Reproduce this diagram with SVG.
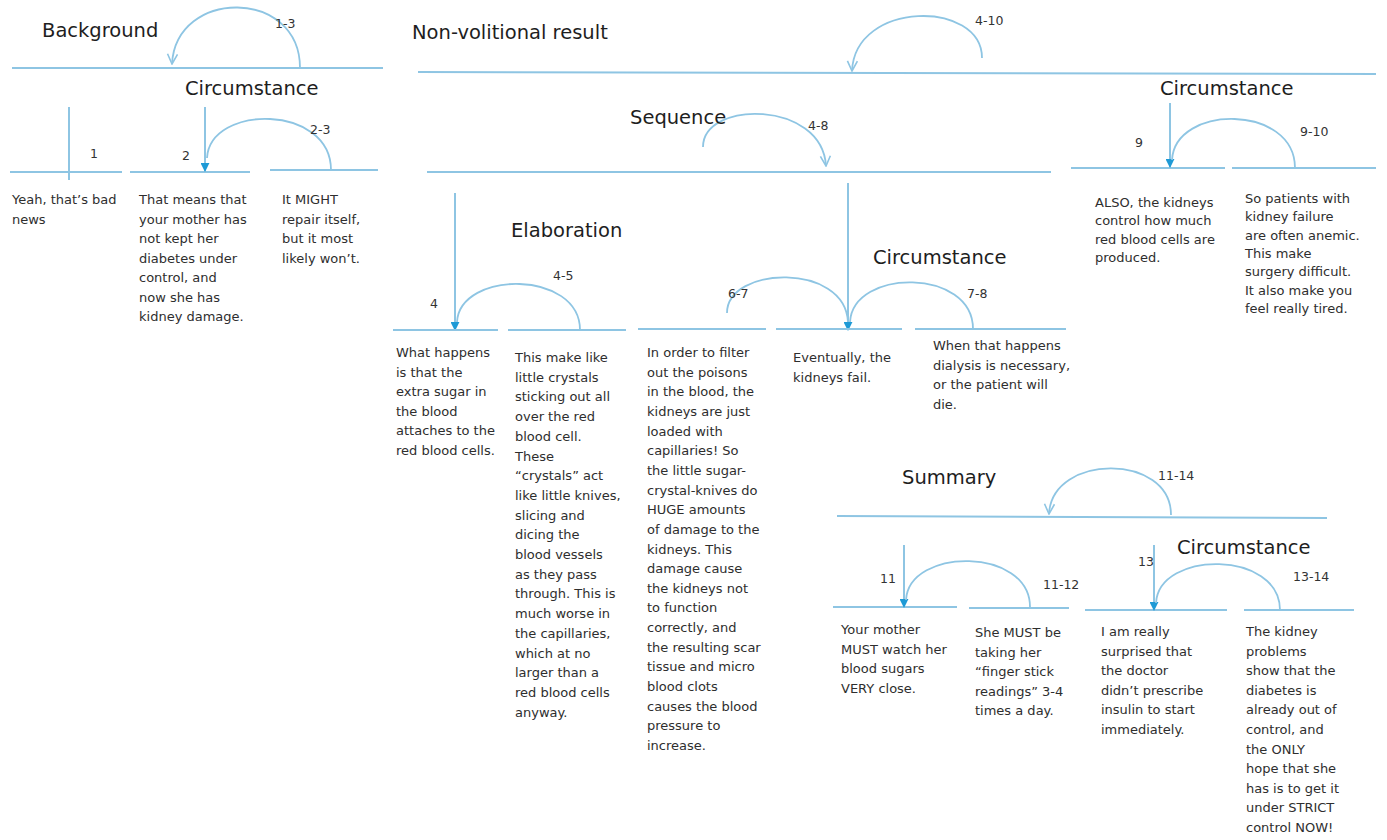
<svg xmlns="http://www.w3.org/2000/svg" width="1387" height="840" viewBox="0 0 1387 840">
<style>
.t{font-family:"DejaVu Sans",sans-serif;font-size:13px;fill:#2e2e2e}
.rt{font-family:"DejaVu Sans",sans-serif;font-size:13px;fill:#2e2e2e}
.h{font-family:"DejaVu Sans",sans-serif;font-size:19.5px;fill:#1e1e1e}
.n{font-family:"DejaVu Sans",sans-serif;font-size:12.5px;fill:#333}
.ln{stroke:#8ec5e3;stroke-width:2;fill:none}
.arc{stroke:#8ec5e3;stroke-width:1.8;fill:none}
</style>
<defs>
<marker id="fa" viewBox="0 0 10 10" refX="9" refY="5" markerWidth="9" markerHeight="9" markerUnits="userSpaceOnUse" orient="auto">
<path d="M0,0 L10,5 L0,10 z" fill="#1e9ad6"/>
</marker>
<marker id="oa" viewBox="0 0 12 12" refX="11" refY="6" markerWidth="12" markerHeight="12" markerUnits="userSpaceOnUse" orient="auto">
<path d="M1,1 L11,6 L1,11" fill="none" stroke="#8ec5e3" stroke-width="1.6"/>
</marker>
</defs>
<rect width="1387" height="840" fill="#ffffff"/>

<g id="connectors">
<line class="ln" x1="12" y1="68" x2="383" y2="68"/>
<line class="ln" x1="10" y1="172" x2="122" y2="172"/>
<line class="ln" x1="130" y1="172" x2="250" y2="172"/>
<line class="ln" x1="270" y1="170" x2="378" y2="170"/>
<line class="ln" x1="69" y1="107" x2="69" y2="180"/>
<line class="ln" x1="205" y1="107" x2="205" y2="171" marker-end="url(#fa)"/>
<path class="arc" d="M300,68 C300,-12 176,-12 172,64" marker-end="url(#oa)"/>
<path class="arc" d="M331,170 C331,104 210,104 207,158"/>

<line class="ln" x1="418" y1="72" x2="1376" y2="74"/>
<path class="arc" d="M982,58 C982,0 855,0 852,71" marker-end="url(#oa)"/>
<line class="ln" x1="427" y1="172" x2="1051" y2="172"/>
<path class="arc" d="M703,147 C703,100 822,100 826,166" marker-end="url(#oa)"/>
<line class="ln" x1="1071" y1="168" x2="1225" y2="168"/>
<line class="ln" x1="1232" y1="168" x2="1376" y2="168"/>
<line class="ln" x1="1170" y1="103" x2="1170" y2="167" marker-end="url(#fa)"/>
<path class="arc" d="M1295,168 C1295,104 1175,104 1172,160"/>

<line class="ln" x1="455" y1="193" x2="455" y2="330" marker-end="url(#fa)"/>
<line class="ln" x1="848" y1="183" x2="848" y2="330" marker-end="url(#fa)"/>
<line class="ln" x1="393" y1="330" x2="498" y2="330"/>
<line class="ln" x1="508" y1="330" x2="626" y2="330"/>
<line class="ln" x1="638" y1="329" x2="766" y2="329"/>
<line class="ln" x1="776" y1="329" x2="902" y2="329"/>
<line class="ln" x1="915" y1="329" x2="1066" y2="329"/>
<path class="arc" d="M580,330 C580,270 460,270 457,322"/>
<path class="arc" d="M727,313 C727,266 845,262 848,322"/>
<path class="arc" d="M973,329 C973,268 853,268 850,322"/>

<line class="ln" x1="837" y1="516" x2="1327" y2="518"/>
<path class="arc" d="M1171,515 C1171,453 1052,453 1049,514" marker-end="url(#oa)"/>
<line class="ln" x1="833" y1="607" x2="957" y2="607"/>
<line class="ln" x1="969" y1="608" x2="1069" y2="608"/>
<line class="ln" x1="1085" y1="610" x2="1227" y2="610"/>
<line class="ln" x1="1244" y1="610" x2="1354" y2="610"/>
<line class="ln" x1="904" y1="545" x2="904" y2="607" marker-end="url(#fa)"/>
<line class="ln" x1="1154" y1="545" x2="1154" y2="610" marker-end="url(#fa)"/>
<path class="arc" d="M1030,607 C1030,547 909,547 906,600"/>
<path class="arc" d="M1280,610 C1280,550 1159,550 1156,603"/>
</g>

<g id="rel-background">
<text class="h" x="42" y="37">Background</text>
<text class="n" x="275" y="28">1-3</text>
</g>
<g id="rel-circumstance-2-3">
<text class="h" x="185" y="95">Circumstance</text>
<text class="n" x="310" y="134">2-3</text>
</g>
<g id="rel-nonvolitional">
<text class="h" x="412" y="39">Non-volitional result</text>
<text class="n" x="975" y="25">4-10</text>
</g>
<g id="rel-sequence">
<text class="h" x="630" y="124">Sequence</text>
<text class="n" x="808" y="130">4-8</text>
</g>
<g id="rel-elaboration">
<text class="h" x="511" y="237">Elaboration</text>
<text class="n" x="553" y="280">4-5</text>
</g>
<g id="rel-circumstance-7-8">
<text class="h" x="873" y="264">Circumstance</text>
<text class="n" x="728" y="298">6-7</text>
<text class="n" x="967" y="298">7-8</text>
</g>
<g id="rel-circumstance-9-10">
<text class="h" x="1160" y="95">Circumstance</text>
<text class="n" x="1300" y="136">9-10</text>
</g>
<g id="rel-summary">
<text class="h" x="902" y="484">Summary</text>
<text class="n" x="1158" y="480">11-14</text>
<text class="n" x="1043" y="589">11-12</text>
</g>
<g id="rel-circumstance-13-14">
<text class="h" x="1177" y="554">Circumstance</text>
<text class="n" x="1293" y="581">13-14</text>
</g>

<g id="seg1">
<text class="n" x="90" y="158">1</text>
<text class="t" x="12" y="204">Yeah, that’s bad<tspan x="12" dy="19.5">news</tspan></text>
</g>
<g id="seg2">
<text class="n" x="182" y="160">2</text>
<text class="t" x="139" y="204">That means that<tspan x="139" dy="19.5">your mother has</tspan><tspan x="139" dy="19.5">not kept her</tspan><tspan x="139" dy="19.5">diabetes under</tspan><tspan x="139" dy="19.5">control, and</tspan><tspan x="139" dy="19.5">now she has</tspan><tspan x="139" dy="19.5">kidney damage.</tspan></text>
</g>
<g id="seg3">
<text class="t" x="282" y="204">It MIGHT<tspan x="282" dy="19.5">repair itself,</tspan><tspan x="282" dy="19.5">but it most</tspan><tspan x="282" dy="19.5">likely won’t.</tspan></text>
</g>
<g id="seg4">
<text class="n" x="430" y="308">4</text>
<text class="t" x="396" y="357">What happens<tspan x="396" dy="19.6">is that the</tspan><tspan x="396" dy="19.6">extra sugar in</tspan><tspan x="396" dy="19.6">the blood</tspan><tspan x="396" dy="19.6">attaches to the</tspan><tspan x="396" dy="19.6">red blood cells.</tspan></text>
</g>
<g id="seg5">
<text class="t" x="515" y="362">This make like<tspan x="515" dy="19.7">little crystals</tspan><tspan x="515" dy="19.7">sticking out all</tspan><tspan x="515" dy="19.7">over the red</tspan><tspan x="515" dy="19.7">blood cell.</tspan><tspan x="515" dy="19.7">These</tspan><tspan x="515" dy="19.7">“crystals” act</tspan><tspan x="515" dy="19.7">like little knives,</tspan><tspan x="515" dy="19.7">slicing and</tspan><tspan x="515" dy="19.7">dicing the</tspan><tspan x="515" dy="19.7">blood vessels</tspan><tspan x="515" dy="19.7">as they pass</tspan><tspan x="515" dy="19.7">through. This is</tspan><tspan x="515" dy="19.7">much worse in</tspan><tspan x="515" dy="19.7">the capillaries,</tspan><tspan x="515" dy="19.7">which at no</tspan><tspan x="515" dy="19.7">larger than a</tspan><tspan x="515" dy="19.7">red blood cells</tspan><tspan x="515" dy="19.7">anyway.</tspan></text>
</g>
<g id="seg6">
<text class="t" x="647" y="357">In order to filter<tspan x="647" dy="19.65">out the poisons</tspan><tspan x="647" dy="19.65">in the blood, the</tspan><tspan x="647" dy="19.65">kidneys are just</tspan><tspan x="647" dy="19.65">loaded with</tspan><tspan x="647" dy="19.65">capillaries! So</tspan><tspan x="647" dy="19.65">the little sugar-</tspan><tspan x="647" dy="19.65">crystal-knives do</tspan><tspan x="647" dy="19.65">HUGE amounts</tspan><tspan x="647" dy="19.65">of damage to the</tspan><tspan x="647" dy="19.65">kidneys. This</tspan><tspan x="647" dy="19.65">damage cause</tspan><tspan x="647" dy="19.65">the kidneys not</tspan><tspan x="647" dy="19.65">to function</tspan><tspan x="647" dy="19.65">correctly, and</tspan><tspan x="647" dy="19.65">the resulting scar</tspan><tspan x="647" dy="19.65">tissue and micro</tspan><tspan x="647" dy="19.65">blood clots</tspan><tspan x="647" dy="19.65">causes the blood</tspan><tspan x="647" dy="19.65">pressure to</tspan><tspan x="647" dy="19.65">increase.</tspan></text>
</g>
<g id="seg7">
<text class="t" x="793" y="362">Eventually, the<tspan x="793" dy="19.6">kidneys fail.</tspan></text>
</g>
<g id="seg8">
<text class="t" x="933" y="350">When that happens<tspan x="933" dy="19.6">dialysis is necessary,</tspan><tspan x="933" dy="19.6">or the patient will</tspan><tspan x="933" dy="19.6">die.</tspan></text>
</g>
<g id="seg9">
<text class="n" x="1135" y="147">9</text>
<text class="rt" x="1095" y="207">ALSO, the kidneys<tspan x="1095" dy="18.3">control how much</tspan><tspan x="1095" dy="18.3">red blood cells are</tspan><tspan x="1095" dy="18.3">produced.</tspan></text>
</g>
<g id="seg10">
<text class="rt" x="1245" y="203">So patients with<tspan x="1245" dy="18.3">kidney failure</tspan><tspan x="1245" dy="18.3">are often anemic.</tspan><tspan x="1245" dy="18.3">This make</tspan><tspan x="1245" dy="18.3">surgery difficult.</tspan><tspan x="1245" dy="18.3">It also make you</tspan><tspan x="1245" dy="18.3">feel really tired.</tspan></text>
</g>
<g id="seg11">
<text class="n" x="880" y="583">11</text>
<text class="t" x="841" y="634">Your mother<tspan x="841" dy="19.6">MUST watch her</tspan><tspan x="841" dy="19.6">blood sugars</tspan><tspan x="841" dy="19.6">VERY close.</tspan></text>
</g>
<g id="seg12">
<text class="t" x="975" y="637">She MUST be<tspan x="975" dy="19.6">taking her</tspan><tspan x="975" dy="19.6">“finger stick</tspan><tspan x="975" dy="19.6">readings” 3-4</tspan><tspan x="975" dy="19.6">times a day.</tspan></text>
</g>
<g id="seg13">
<text class="n" x="1138" y="566">13</text>
<text class="t" x="1101" y="636">I am really<tspan x="1101" dy="19.6">surprised that</tspan><tspan x="1101" dy="19.6">the doctor</tspan><tspan x="1101" dy="19.6">didn’t prescribe</tspan><tspan x="1101" dy="19.6">insulin to start</tspan><tspan x="1101" dy="19.6">immediately.</tspan></text>
</g>
<g id="seg14">
<text class="t" x="1246" y="636">The kidney<tspan x="1246" dy="19.6">problems</tspan><tspan x="1246" dy="19.6">show that the</tspan><tspan x="1246" dy="19.6">diabetes is</tspan><tspan x="1246" dy="19.6">already out of</tspan><tspan x="1246" dy="19.6">control, and</tspan><tspan x="1246" dy="19.6">the ONLY</tspan><tspan x="1246" dy="19.6">hope that she</tspan><tspan x="1246" dy="19.6">has is to get it</tspan><tspan x="1246" dy="19.6">under STRICT</tspan><tspan x="1246" dy="19.6">control NOW!</tspan></text>
</g>
</svg>
